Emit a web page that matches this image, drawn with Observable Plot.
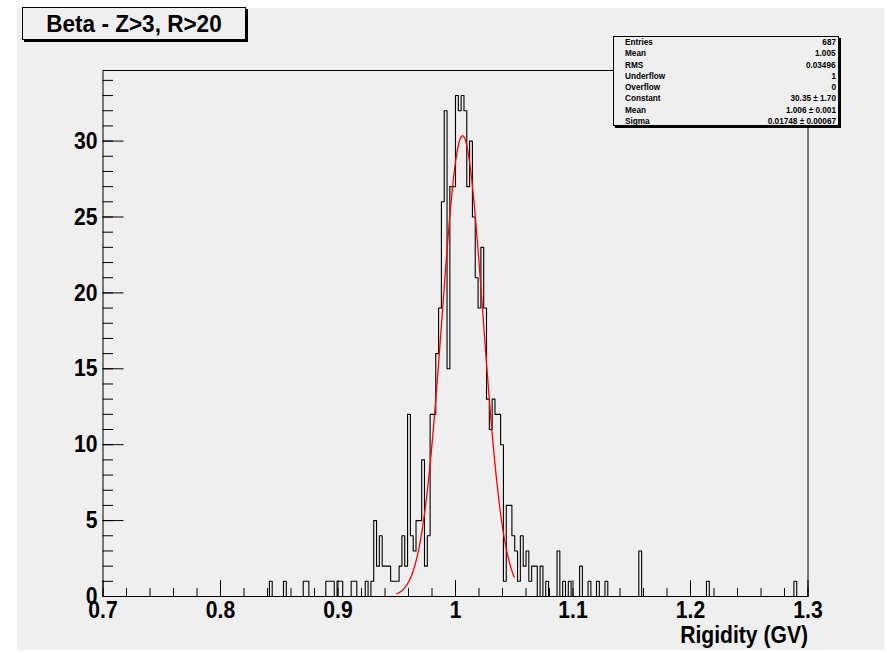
<!DOCTYPE html>
<html>
<head>
<meta charset="utf-8">
<script src="https://cdn.jsdelivr.net/npm/d3@7"></script>
<script src="https://cdn.jsdelivr.net/npm/@observablehq/plot@0.6"></script>
<style>
  html, body { margin: 0; padding: 0; background: #fff; }
  body { width: 887px; height: 653px; position: relative; overflow: hidden;
         font-family: "Liberation Sans", Arial, Helvetica, sans-serif; color: #000; }
  #pad { position: absolute; left: 17px; top: 8px; width: 867px; height: 642px; background: #efefef; }
  #chart { position: absolute; left: 0; top: 0; }
  .box { position: absolute; background: #efefef; border: 1px solid #000;
         box-shadow: 2px 2px 0 #000; box-sizing: border-box; }
  #title { left: 22px; top: 7px; width: 224px; height: 33px; }
  #title span { position: absolute; left: 50%; top: 50%; font-weight: bold; font-size: 24.5px;
                white-space: nowrap; transform: translate(-50%, -50%) scaleX(0.92); }
  #stats { left: 613px; top: 36px; width: 226px; height: 90px; }
  .row { position: absolute; left: 0; right: 0; height: 11px; font-size: 9px;
         font-weight: bold; line-height: 11px; white-space: nowrap; }
  .row .k { position: absolute; left: 11px; transform: scaleX(0.91); transform-origin: left center; }
  .row .v { position: absolute; right: 2px; transform: scaleX(0.91); transform-origin: right center; }
</style>
</head>
<body>
<div id="pad"></div>
<div id="chart"></div>
<div id="title" class="box"><span></span></div>
<div id="stats" class="box"></div>
<script>
// Histogram definition: 250 bins between 0.7 and 1.3
const histLow = 0.7, histHigh = 1.3, nBins = 250;

// Non-empty bins (bin number) and their contents
const filledBins = [59, 64, 71, 72, 79, 80, 81, 83, 84, 88, 89, 93, 95,
  96, 97, 98, 99, 100, 101, 102, 103, 104, 105, 106, 107, 108, 109, 110, 111, 112, 113, 114, 115,
  116, 117, 118, 119, 120, 121, 122, 123, 124, 125, 126, 127, 128, 129, 130, 131, 132, 133, 134,
  135, 136, 137, 138, 139, 140, 141, 142, 143, 144, 145, 146, 147, 148, 149, 150, 151, 152, 153,
  155, 157, 161, 163, 165, 169, 172, 175, 178, 190, 214, 245];
const binCounts = [1, 1, 1, 1, 1, 1, 1, 1, 1, 1, 1, 1, 1,
  5, 2, 4, 2, 2, 2, 1, 1, 1, 2, 4, 2, 12, 4, 3, 5, 5, 9, 2, 4,
  12, 12, 16, 19, 26, 32, 15, 27, 27, 33, 32, 33, 32, 27, 30, 25, 21, 19, 23,
  19, 13, 11, 13, 12, 12, 10, 1, 6, 6, 4, 3, 1, 4, 2, 3, 1, 2, 2,
  2, 1, 3, 1, 1, 2, 1, 1, 1, 3, 1, 1];

// Gaussian fit result
const fitConstant = 30.35, fitMean = 1.006, fitSigma = 0.01748;
const fitRange = [0.95, 1.05];

// Axis ticks
const xTickLabels = [0.7, 0.8, 0.9, 1.0, 1.1, 1.2, 1.3];
const yTickLabels = [0, 5, 10, 15, 20, 25, 30];
const xMinorStep = 0.02, yMinorStep = 1;

// Text content
const titleText = "Beta - Z>3, R>20";
const xAxisTitle = "Rigidity (GV)";
const statLabels = ["Entries", "Mean", "RMS", "Underflow", "Overflow", "Constant", "Mean", "Sigma"];
const statValues = ["687", "1.005", "0.03496", "1", "0", "30.35 \u00b1 1.70", "1.006 \u00b1 0.001", "0.01748 \u00b1 0.00067"];

// ---- build the step outline of the histogram
const binWidth = (histHigh - histLow) / nBins;
const counts = new Array(nBins).fill(0);
filledBins.forEach((b, i) => { counts[b] = binCounts[i]; });
const steps = counts.map((c, i) => ({x: histLow + i * binWidth, y: c}));
steps.push({x: histHigh, y: counts[nBins - 1]});
const yMax = 1.05 * d3.max(counts);

// ---- fitted gaussian, sampled over the fit range
const fitPts = d3.range(0, 301).map(j => {
  const x = fitRange[0] + (fitRange[1] - fitRange[0]) * j / 300;
  return {x, y: fitConstant * Math.exp(-0.5 * ((x - fitMean) / fitSigma) ** 2)};
});

const xMinor = d3.range(0, Math.round((histHigh - histLow) / xMinorStep) + 1).map(k => histLow + k * xMinorStep);
const yMinor = d3.range(0, Math.floor(yMax) + 1, yMinorStep);

const W = 887, H = 653, mL = 102.5, mR = 79.5, mT = 70, mB = 57;
const fw = W - mL - mR, fh = H - mT - mB;
const font = "'Liberation Sans', Arial, Helvetica, sans-serif";

const chart = Plot.plot({
  width: W, height: H,
  marginLeft: mL, marginRight: mR, marginTop: mT, marginBottom: mB,
  style: {background: "transparent", fontFamily: font, color: "#000"},
  x: {domain: [histLow, histHigh]},
  y: {domain: [0, yMax]},
  marks: [
    // ticks point into the frame
    Plot.tickY(yMinor, {y: d => d, insetRight: fw - 10.5, stroke: "#000"}),
    Plot.tickY(yTickLabels, {y: d => d, insetRight: fw - 21, stroke: "#000"}),
    Plot.tickX(xMinor, {x: d => d, insetTop: fh - 7.9, stroke: "#000"}),
    Plot.tickX(xTickLabels, {x: d => d, insetTop: fh - 15.8, stroke: "#000"}),
    Plot.axisY(yTickLabels, {tickSize: 0, tickPadding: 5.5, fontSize: 24, fontWeight: "bold", label: null}),
    Plot.axisX(xTickLabels, {tickSize: 0, tickPadding: 4, fontSize: 24, fontWeight: "bold",
      tickFormat: d => String(+d.toFixed(1)), label: null}),
    Plot.text([xAxisTitle], {text: d => d, frameAnchor: "bottom-right", textAnchor: "end",
      lineAnchor: "middle", dy: 39, fontSize: 24, fontWeight: "bold"}),
    Plot.line(steps, {x: "x", y: "y", curve: "step-after", stroke: "#000", strokeWidth: 1.1}),
    Plot.line(fitPts, {x: "x", y: "y", stroke: "#ff0000", strokeWidth: 1.3}),
    Plot.frame({stroke: "#000"})
  ]
});

// slightly condensed lettering for all chart text
d3.select(chart).selectAll("text").each(function () {
  const xs = this.getAttribute("x"), dxs = this.getAttribute("dx");
  let x = 0;
  if (xs !== null && isFinite(+xs)) { x += +xs; this.removeAttribute("x"); }
  if (dxs !== null && isFinite(+dxs)) { x += +dxs; this.removeAttribute("dx"); }
  const tr = this.getAttribute("transform") || "";
  this.setAttribute("transform", `${tr} translate(${x},0) scale(0.88,1)`);
});
document.getElementById("chart").appendChild(chart);

// title box
document.querySelector("#title span").textContent = titleText;

// statistics box
const stats = document.getElementById("stats");
statLabels.forEach((lab, i) => {
  const row = document.createElement("div");
  row.className = "row";
  row.style.top = (11.25 * i) + "px";
  const k = document.createElement("span"); k.className = "k"; k.textContent = lab;
  const v = document.createElement("span"); v.className = "v"; v.textContent = statValues[i];
  row.appendChild(k); row.appendChild(v);
  stats.appendChild(row);
});
</script>
</body>
</html>
